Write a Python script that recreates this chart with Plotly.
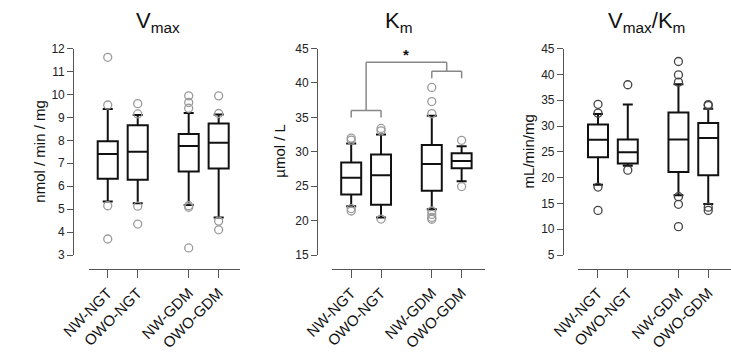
import plotly.graph_objects as go

W, H = 731, 353

categories = ["NW-NGT", "OWO-NGT", "NW-GDM", "OWO-GDM"]
positions = [0, 1, 2.7, 3.7]

# Panel 1: Vmax (nmol / min / mg)
vmax_q1 = [6.33, 6.28, 6.64, 6.77]
vmax_med = [7.41, 7.50, 7.75, 7.89]
vmax_q3 = [7.96, 8.66, 8.28, 8.73]
vmax_lo = [5.33, 5.26, 5.18, 4.64]
vmax_hi = [9.37, 9.11, 9.19, 9.13]
vmax_out = [[11.62, 9.54, 5.15, 3.70],
            [9.60, 9.15, 5.13, 4.35],
            [9.94, 9.65, 9.40, 5.15, 5.08, 3.31],
            [9.94, 9.17, 4.48, 4.10]]

# Panel 2: Km (µmol / L)
km_q1 = [23.8, 22.3, 24.35, 27.6]
km_med = [26.25, 26.6, 28.24, 28.66]
km_q3 = [28.45, 29.6, 31.0, 29.8]
km_lo = [22.1, 20.46, 21.67, 25.74]
km_hi = [31.2, 32.5, 35.23, 30.8]
km_out = [[32.0, 31.7, 21.76, 21.4],
          [33.4, 33.05, 20.23],
          [39.35, 37.3, 35.55, 21.4, 20.9, 20.46, 20.2],
          [31.67, 24.95]]

# Panel 3: Vmax/Km (mL/min/mg)
ratio_q1 = [23.93, 22.76, 21.08, 20.46]
ratio_med = [27.34, 24.92, 27.4, 27.7]
ratio_q3 = [30.3, 27.4, 32.6, 30.6]
ratio_lo = [18.6, 22.3, 16.6, 14.9]
ratio_hi = [32.35, 34.15, 38.1, 33.34]
ratio_out = [[34.2, 32.5, 18.17, 13.65],
             [37.99, 21.45],
             [42.5, 39.9, 38.5, 16.3, 14.83, 10.5],
             [34.15, 33.96, 14.27, 13.65]]

panel_titles = ["V<sub>max</sub>", "K<sub>m</sub>", "V<sub>max</sub>/K<sub>m</sub>"]
y_titles = ["nmol / min / mg", "µmol / L", "mL/min/mg"]
y_ranges = [[3, 12], [15, 45], [5, 45]]
y_dticks = [1, 5, 5]

FONT = "Liberation Sans, Arial, sans-serif"


def px(x):
    return x / W


def py(y):
    return 1 - y / H


# layout geometry in pixels
panels = [
    dict(yaxis_x=46, x0=62, x1=220, c0=82, c3=197.5, title_x=134, ytitle_x=10),
    dict(yaxis_x=300, x0=316, x1=475, c0=335.5, c3=450.5, title_x=385, ytitle_x=260),
    dict(yaxis_x=556, x0=572, x1=731, c0=592.5, c3=707.3, title_x=643, ytitle_x=520),
]
y_top, y_bot, xaxis_y = 43.3, 258.3, 273.3

stats = [
    (vmax_q1, vmax_med, vmax_q3, vmax_lo, vmax_hi, vmax_out),
    (km_q1, km_med, km_q3, km_lo, km_hi, km_out),
    (ratio_q1, ratio_med, ratio_q3, ratio_lo, ratio_hi, ratio_out),
]
out_colors = ["#9a9a9a", "#9a9a9a", "#444444"]

fig = go.Figure()
layout = dict(
    width=W, height=H,
    margin=dict(l=0, r=0, t=0, b=0),
    paper_bgcolor="white", plot_bgcolor="white",
    showlegend=False,
    font=dict(family=FONT, color="#222"),
)
annotations = []
shapes = []

for i, (p, st) in enumerate(zip(panels, stats)):
    n = i + 1
    xa = "x" if n == 1 else f"x{n}"
    ya = "y" if n == 1 else f"y{n}"
    q1, med, q3, lo, hi, outs = st
    fig.add_trace(go.Box(
        x=positions, q1=q1, median=med, q3=q3, lowerfence=lo, upperfence=hi,
        width=0.67, whiskerwidth=0.5, fillcolor="white",
        line=dict(color="#111", width=2), xaxis=xa, yaxis=ya,
        hoverinfo="skip",
    ))
    ox, oy = [], []
    for pos, vals in zip(positions, outs):
        for v in vals:
            ox.append(pos)
            oy.append(v)
    fig.add_trace(go.Scatter(
        x=ox, y=oy, mode="markers", xaxis=xa, yaxis=ya,
        marker=dict(symbol="circle-open", size=8, color=out_colors[i],
                    line=dict(width=1.3, color=out_colors[i])),
        hoverinfo="skip",
    ))
    unit = (p["c3"] - p["c0"]) / 3.7
    xr = [-(p["c0"] - p["x0"]) / unit, 3.7 + (p["x1"] - p["c3"]) / unit]
    layout["xaxis" if n == 1 else f"xaxis{n}"] = dict(
        domain=[px(p["x0"]), px(p["x1"])], range=xr,
        anchor="free", position=py(xaxis_y),
        tickvals=positions, ticktext=categories, tickangle=-45,
        showline=True, linecolor="#555", linewidth=1,
        ticks="outside", ticklen=8, tickcolor="#555",
        showgrid=False, zeroline=False,
        tickfont=dict(size=15, color="#111", family=FONT),
    )
    layout["yaxis" if n == 1 else f"yaxis{n}"] = dict(
        domain=[py(y_bot), py(y_top)], range=y_ranges[i], dtick=y_dticks[i],
        anchor="free", position=px(p["yaxis_x"]),
        showline=True, linecolor="#555", linewidth=1,
        ticks="outside", ticklen=6, tickcolor="#555",
        showgrid=False, zeroline=False,
        tickfont=dict(size=12, color="#222", family=FONT),
    )
    annotations.append(dict(
        text=panel_titles[i], x=px(p["title_x"]), y=py(16),
        xref="paper", yref="paper", xanchor="center", yanchor="middle",
        showarrow=False, font=dict(size=22, color="#111", family=FONT),
    ))
    annotations.append(dict(
        text=y_titles[i], x=px(p["ytitle_x"]), y=py(150),
        xref="paper", yref="paper", xanchor="center", yanchor="middle",
        textangle=-90, showarrow=False,
        font=dict(size=15, color="#111", family=FONT),
    ))

# significance brackets in Km panel
bracket_color = "#888"
left_c = (positions[0] + positions[1]) / 2
right_c = (positions[2] + positions[3]) / 2
segs = [
    # left bracket
    (positions[0], 35.0, positions[0], 36.0),
    (positions[1], 35.0, positions[1], 36.0),
    (positions[0], 36.0, positions[1], 36.0),
    # right bracket
    (positions[2], 40.7, positions[2], 41.7),
    (positions[3], 40.7, positions[3], 41.7),
    (positions[2], 41.7, positions[3], 41.7),
    # connector
    (left_c, 36.0, left_c, 43.0),
    (right_c, 41.7, right_c, 43.0),
    (left_c, 43.0, right_c, 43.0),
]
for x0, y0, x1, y1 in segs:
    shapes.append(dict(type="line", xref="x2", yref="y2", x0=x0, y0=y0,
                       x1=x1, y1=y1, line=dict(color=bracket_color, width=1.5)))
annotations.append(dict(
    text="<b>*</b>", x=(left_c + right_c) / 2, y=44.2, xref="x2", yref="y2",
    showarrow=False, font=dict(size=15, color="#111", family=FONT),
))

layout["annotations"] = annotations
layout["shapes"] = shapes
fig.update_layout(**layout)
fig.write_html("out.html")
